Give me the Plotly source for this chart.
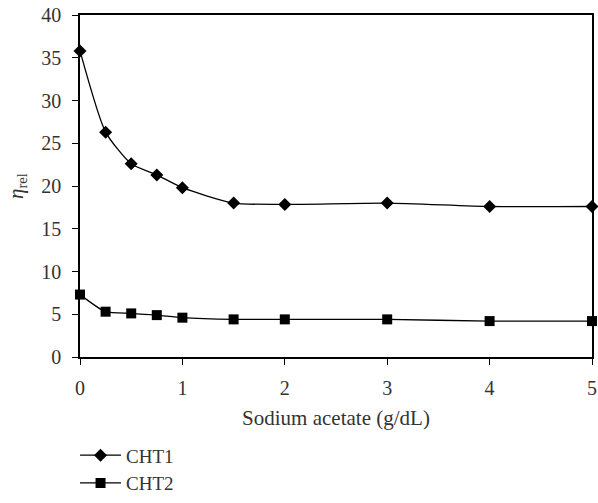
import plotly.graph_objects as go

x_vals = [0, 0.25, 0.5, 0.75, 1, 1.5, 2, 3, 4, 5]
cht1 = [35.8, 26.3, 22.6, 21.3, 19.8, 18.0, 17.85, 18.0, 17.6, 17.6]
cht2 = [7.3, 5.3, 5.1, 4.9, 4.6, 4.4, 4.4, 4.4, 4.2, 4.2]
x_ticks = [0, 1, 2, 3, 4, 5]
y_ticks = [0, 5, 10, 15, 20, 25, 30, 35, 40]

font_family = "Liberation Serif, DejaVu Serif, serif"
txt = "#333333"

fig = go.Figure()
fig.add_trace(go.Scatter(x=x_vals, y=cht1, name="CHT1", mode="lines+markers",
                         line=dict(color="black", width=1.3, shape="spline", smoothing=0.6),
                         marker=dict(symbol="diamond", size=10, color="black"),
                         cliponaxis=False))
fig.add_trace(go.Scatter(x=x_vals, y=cht2, name="CHT2", mode="lines+markers",
                         line=dict(color="black", width=1.3, shape="spline", smoothing=0.6),
                         marker=dict(symbol="square", size=10, color="black"),
                         cliponaxis=False))

fig.update_layout(
    width=598, height=503,
    margin=dict(l=80, r=1, t=15, b=131),
    paper_bgcolor="white", plot_bgcolor="white",
    font=dict(family=font_family, size=20, color=txt),
    showlegend=True,
    legend=dict(x=-0.0097, y=-0.232, xanchor="left", yanchor="top",
                font=dict(size=19, color=txt), itemwidth=41,
                tracegroupgap=0, bgcolor="rgba(0,0,0,0)"),
    xaxis=dict(range=[0, 5], tickvals=x_ticks, ticks="outside", ticklen=6,
               tickcolor="black", showline=True, linecolor="black", linewidth=1.5,
               mirror=True, showgrid=False, zeroline=False,
               ticklabelstandoff=6, ticklabeloverflow="allow",
               tickfont=dict(size=20, color=txt),
               title=dict(text="Sodium acetate (g/dL)", standoff=13,
                          font=dict(size=21, color=txt))),
    yaxis=dict(range=[0, 40], tickvals=y_ticks, ticks="outside", ticklen=6,
               tickcolor="black", showline=True, linecolor="black", linewidth=1.5,
               mirror=True, showgrid=False, zeroline=False,
               ticklabelstandoff=7, tickfont=dict(size=20, color=txt),
               title=dict(text="<i>η</i><sub>rel</sub>", standoff=12,
                          font=dict(size=21, color=txt))),
)

fig.write_html("out.html")
